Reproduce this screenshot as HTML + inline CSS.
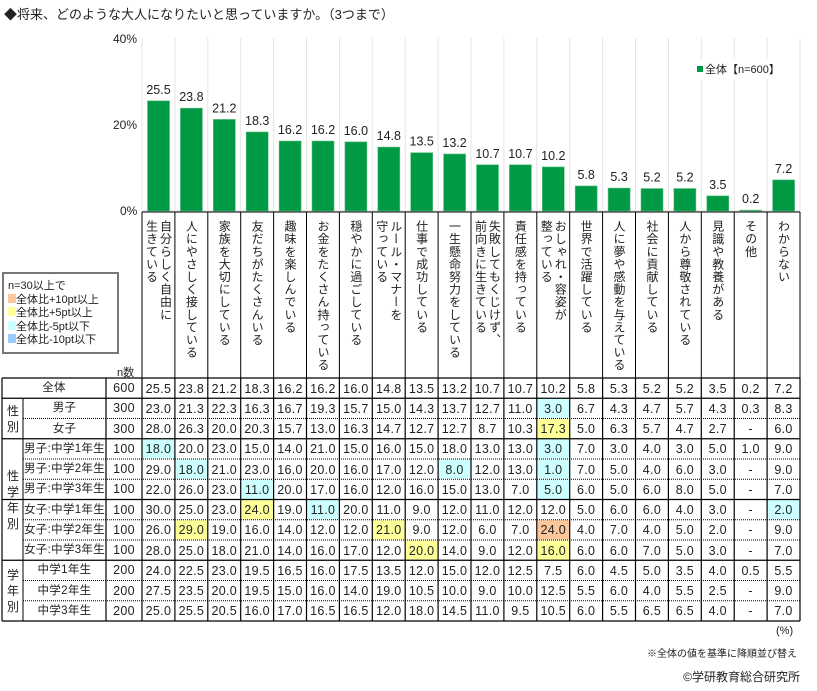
<!DOCTYPE html>
<html><head><meta charset="utf-8">
<style>
body{margin:0;width:817px;height:691px;background:#fff;position:relative;overflow:hidden;font-family:"Liberation Sans","Noto Sans CJK JP",sans-serif;color:#222}
.a{position:absolute;white-space:nowrap}
.lab{position:absolute;writing-mode:vertical-rl;font-size:12px;letter-spacing:0.6px;line-height:14px;top:220px}
.cell{position:absolute;font-size:12.5px;text-align:center;line-height:20px;letter-spacing:0.3px}
</style></head><body>
<div class="a" style="left:4px;top:4px;font-size:13px">◆将来、どのような大人になりたいと思っていますか。（3つまで）</div>
<svg id="s" width="817" height="691" style="position:absolute;left:0;top:0"></svg>
<div id="h"></div>
<div class="a" style="left:2px;top:272px;width:113px;height:78px;border:2px solid #777;font-size:11px;line-height:13.5px;padding:2px 0 0 4px;box-sizing:border-box;width:117px;height:82px">
<div style="margin-top:4px">n=30以上で</div>
<div><span style="display:inline-block;width:8px;height:9px;background:#fcc79a"></span>全体比+10pt以上</div>
<div><span style="display:inline-block;width:8px;height:9px;background:#ffff99"></span>全体比+5pt以上</div>
<div><span style="display:inline-block;width:8px;height:9px;background:#ccffff"></span>全体比-5pt以下</div>
<div><span style="display:inline-block;width:8px;height:9px;background:#99ccff"></span>全体比-10pt以下</div>
</div>
<div class="a" style="left:117px;top:364px;font-size:11px">n数</div>
<div class="a" style="left:697px;top:59px;font-size:11px;background:#fff;padding:2px 0"><span style="display:inline-block;width:6px;height:6px;background:#009944;margin-right:2px;vertical-align:1px"></span>全体【n=600】</div>
<div class="a" style="left:113px;top:32px;font-size:12px">40%</div>
<div class="a" style="left:113px;top:118px;font-size:12px">20%</div>
<div class="a" style="left:120px;top:204px;font-size:12px">0%</div>
<div class="a" style="left:776px;top:625px;font-size:11px">(%)</div>
<div class="a" style="right:20px;top:645px;font-size:10px">※全体の値を基準に降順並び替え</div>
<div class="a" style="right:17px;top:668px;font-size:12px">©学研教育総合研究所</div>
<script>
var X0=142,W=32.9,Y0=378,RH=20.25,base=211,sc=4.32;
var vals=[25.5,23.8,21.2,18.3,16.2,16.2,16.0,14.8,13.5,13.2,10.7,10.7,10.2,5.8,5.3,5.2,5.2,3.5,0.2,7.2];
var labs=[["自分らしく自由に","生きている"],["人にやさしく接している"],["家族を大切にしている"],["友だちがたくさんいる"],["趣味を楽しんでいる"],["お金をたくさん持っている"],["穏やかに過ごしている"],["ルール・マナーを","守っている"],["仕事で成功している"],["一生懸命努力をしている"],["失敗してもくじけず、","前向きに生きている"],["責任感を持っている"],["おしゃれ・容姿が","整っている"],["世界で活躍している"],["人に夢や感動を与えている"],["社会に貢献している"],["人から尊敬されている"],["見識や教養がある"],["その他"],["わからない"]];
var rows=[
["全体","600","25.5 23.8 21.2 18.3 16.2 16.2 16.0 14.8 13.5 13.2 10.7 10.7 10.2 5.8 5.3 5.2 5.2 3.5 0.2 7.2"],
["男子","300","23.0 21.3 22.3 16.3 16.7 19.3 15.7 15.0 14.3 13.7 12.7 11.0 3.0 6.7 4.3 4.7 5.7 4.3 0.3 8.3"],
["女子","300","28.0 26.3 20.0 20.3 15.7 13.0 16.3 14.7 12.7 12.7 8.7 10.3 17.3 5.0 6.3 5.7 4.7 2.7 - 6.0"],
["男子:中学1年生","100","18.0 20.0 23.0 15.0 14.0 21.0 15.0 16.0 15.0 18.0 13.0 13.0 3.0 7.0 3.0 4.0 3.0 5.0 1.0 9.0"],
["男子:中学2年生","100","29.0 18.0 21.0 23.0 16.0 20.0 16.0 17.0 12.0 8.0 12.0 13.0 1.0 7.0 5.0 4.0 6.0 3.0 - 9.0"],
["男子:中学3年生","100","22.0 26.0 23.0 11.0 20.0 17.0 16.0 12.0 16.0 15.0 13.0 7.0 5.0 6.0 5.0 6.0 8.0 5.0 - 7.0"],
["女子:中学1年生","100","30.0 25.0 23.0 24.0 19.0 11.0 20.0 11.0 9.0 12.0 11.0 12.0 12.0 5.0 6.0 6.0 4.0 3.0 - 2.0"],
["女子:中学2年生","100","26.0 29.0 19.0 16.0 14.0 12.0 12.0 21.0 9.0 12.0 6.0 7.0 24.0 4.0 7.0 4.0 5.0 2.0 - 9.0"],
["女子:中学3年生","100","28.0 25.0 18.0 21.0 14.0 16.0 17.0 12.0 20.0 14.0 9.0 12.0 16.0 6.0 6.0 7.0 5.0 3.0 - 7.0"],
["中学1年生","200","24.0 22.5 23.0 19.5 16.5 16.0 17.5 13.5 12.0 15.0 12.0 12.5 7.5 6.0 4.5 5.0 3.5 4.0 0.5 5.5"],
["中学2年生","200","27.5 23.5 20.0 19.5 15.0 16.0 14.0 19.0 10.5 10.0 9.0 10.0 12.5 5.5 6.0 4.0 5.5 2.5 - 9.0"],
["中学3年生","200","25.0 25.5 20.5 16.0 17.0 16.5 16.5 12.0 18.0 14.5 11.0 9.5 10.5 6.0 5.5 6.5 6.5 4.0 - 7.0"]];
var C="#ccffff",Yw="#ffff99",O="#fcc79a";
var hl={"1,12":C,"2,12":Yw,"3,0":C,"3,12":C,"4,1":C,"4,9":C,"4,12":C,"5,3":C,"5,12":C,"6,3":Yw,"6,5":C,"6,19":C,"7,1":Yw,"7,7":Yw,"7,12":O,"8,8":Yw,"8,12":Yw};
var s='',h='';
var XR=X0+20*W;
// chart grid
for(var i=0;i<=20;i++){var x=X0+i*W;s+='<line x1="'+x+'" y1="38" x2="'+x+'" y2="'+base+'" stroke="#e4e4e4" stroke-width="1"/>';}
s+='<line x1="'+X0+'" y1="'+base+'" x2="'+XR+'" y2="'+base+'" stroke="#ddd"/>';
for(var i=0;i<20;i++){var bh=vals[i]*sc,x=X0+i*W+5.5;
s+='<rect x="'+x+'" y="'+(base-bh)+'" width="22" height="'+bh+'" fill="#009944" stroke="#5fc07f" stroke-width="0.6"/>';
s+='<text x="'+(x+11)+'" y="'+(base-bh-7)+'" font-size="12.5" text-anchor="middle" fill="#222" font-family="Liberation Sans">'+vals[i].toFixed(1)+'</text>';
var l=labs[i],cx=X0+i*W+W/2;
if(l.length==1)h+='<div class="lab" style="left:'+(cx-7)+'px">'+l[0]+'</div>';
else h+='<div class="lab" style="left:'+(cx-14)+'px">'+l[0]+'<br>'+l[1]+'</div>';}
// header vertical lines
for(var i=0;i<=20;i++){var x=X0+i*W;s+='<line x1="'+x+'" y1="'+(base+1)+'" x2="'+x+'" y2="'+Y0+'" stroke="#000"/>';}
s+='<line x1="'+X0+'" y1="'+(base+1)+'" x2="'+XR+'" y2="'+(base+1)+'" stroke="#000"/>';
// table
var YE=Y0+12*RH;
for(var r=0;r<12;r++){var y=Y0+r*RH,row=rows[r],v=row[2].split(' ');
var lx=r==0?2:23;
h+='<div class="cell" style="left:'+lx+'px;top:'+y+'px;width:'+(106-lx)+'px;font-size:11.5px">'+row[0]+'</div>';
h+='<div class="cell" style="left:106px;top:'+y+'px;width:36px">'+row[1]+'</div>';
for(var c=0;c<20;c++){var bg=hl[r+','+c];var x=X0+c*W;
if(bg)s+='<rect x="'+(x+0.5)+'" y="'+(y+0.5)+'" width="'+(W-1)+'" height="'+(RH-1)+'" fill="'+bg+'"/>';
h+='<div class="cell" style="left:'+x+'px;top:'+(y+0.5)+'px;width:'+W+'px">'+v[c]+'</div>';}}
// horizontal lines
var solid=[0,1,3,9,12],dot=[2,4,5,7,8,10,11];
solid.forEach(function(j){var y=Y0+j*RH;s+='<line x1="2" y1="'+y+'" x2="'+XR+'" y2="'+y+'" stroke="#000" stroke-width="1.3"/>';});
s+='<line x1="2" y1="'+(Y0+6*RH)+'" x2="'+XR+'" y2="'+(Y0+6*RH)+'" stroke="#000" stroke-width="1.3"/>';
s+='<line x1="23" y1="'+(Y0+6*RH)+'" x2="'+XR+'" y2="'+(Y0+6*RH)+'" stroke="#000"/>';
dot.forEach(function(j){var y=Y0+j*RH;s+='<line x1="23" y1="'+y+'" x2="'+XR+'" y2="'+y+'" stroke="#000" stroke-dasharray="1,1"/>';});
// vertical lines
[2,106].concat(Array.from({length:21},function(_,i){return X0+i*W;})).forEach(function(x){s+='<line x1="'+x+'" y1="'+Y0+'" x2="'+x+'" y2="'+YE+'" stroke="#000" stroke-width="1.2"/>';});
s+='<line x1="23" y1="'+(Y0+RH)+'" x2="23" y2="'+YE+'" stroke="#000"/>';
// group labels
function grp(t,y1,y2){var n=t.length,cy=(y1+y2)/2;h+='<div class="a" style="left:6px;top:'+(cy-n*8)+'px;width:14px;font-size:12px;line-height:16px;white-space:normal;text-align:center">'+t.split('').join('<br>')+'</div>';}
grp('性別',Y0+RH,Y0+3*RH);grp('性学年別',Y0+3*RH,Y0+9*RH);grp('学年別',Y0+9*RH,YE);
document.getElementById('s').innerHTML=s;
document.getElementById('h').innerHTML=h;
</script>
</body></html>
